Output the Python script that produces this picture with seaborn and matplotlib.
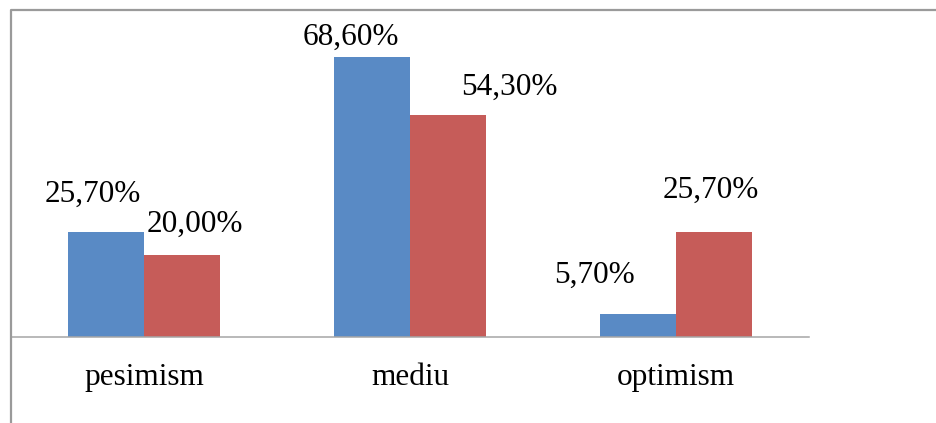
import pandas as pd
import matplotlib
matplotlib.use("Agg")
import matplotlib.pyplot as plt
import seaborn as sns
from matplotlib.lines import Line2D

# ==============================
# DATA
# ==============================
categories = ["pesimism", "mediu", "optimism"]
series_names = ["seria 1", "seria 2"]
values_s1 = [25.7, 68.6, 5.7]
values_s2 = [20.0, 54.3, 25.7]

# manual label nudges (pixels: dx, dy above the bar top), same order as bars drawn
label_offsets_s1 = [(-13, 30.6), (-21.5, 12.4), (-43.5, 30.6)]
label_offsets_s2 = [(13, 24.0), (61.5, 20.3), (-3, 33.8)]

colors = ["#598AC5", "#C65C59"]

df = pd.DataFrame({
    "category": categories * 2,
    "series": [series_names[0]] * 3 + [series_names[1]] * 3,
    "value": values_s1 + values_s2,
})

# ==============================
# PLOT
# ==============================
W, H = 936, 423
sns.set_theme(style="white")
plt.rcParams["font.family"] = ["Liberation Serif", "DejaVu Serif"]

fig = plt.figure(figsize=(W / 100, H / 100), dpi=100)
ax = fig.add_axes([11 / W, 86 / H, (809 - 11) / W, (337 - 10.4) / H])

sns.barplot(data=df, x="category", y="value", hue="series", order=categories,
            hue_order=series_names, palette=colors, width=0.57, gap=0,
            saturation=1, legend=False, linewidth=0, ax=ax)

ax.set_xlim(-0.5, 2.5)
ax.set_ylim(0, 80)
ax.set_xlabel("")
ax.set_ylabel("")
ax.set_yticks([])
ax.tick_params(axis="x", length=0, pad=18.5, labelsize=22.5, colors="black")

for side in ["top", "right", "left"]:
    ax.spines[side].set_visible(False)
ax.spines["bottom"].set_color("#A6A6A6")
ax.spines["bottom"].set_linewidth(1.1)

# value labels
offsets = label_offsets_s1 + label_offsets_s2
bars = [p for c in ax.containers for p in c]
for bar, (dx, dy) in zip(bars, offsets):
    h = bar.get_height()
    txt = f"{h:.2f}".replace(".", ",") + "%"
    ax.annotate(txt, xy=(bar.get_x() + bar.get_width() / 2, h),
                xytext=(dx * 0.72, dy * 0.72), textcoords="offset points",
                ha="center", va="baseline", fontsize=22.5, color="black",
                annotation_clip=False)

# outer chart frame (top and left edges)
fig.add_artist(Line2D([10.5 / W, 10.5 / W, 1], [0, 1 - 10.5 / H, 1 - 10.5 / H],
                      transform=fig.transFigure, color="#9A9A9A", lw=1.6))

fig.savefig("out.png", dpi=100)
